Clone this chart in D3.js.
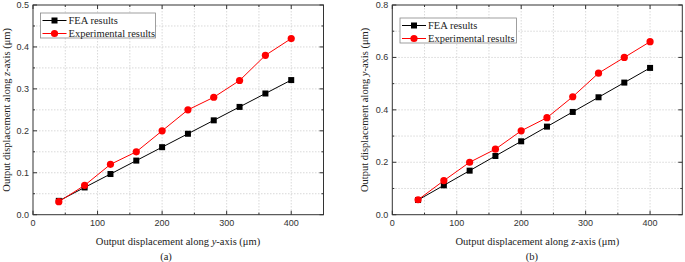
<!DOCTYPE html>
<html>
<head>
<meta charset="utf-8">
<script src="https://cdn.jsdelivr.net/npm/d3@7"></script>
<style>
  body { margin: 0; background: #fff; }
  svg { display: block; }
  .tick-label { font-family: "Liberation Sans", Arial, sans-serif; font-size: 9px; fill: #333; }
  .title { font-family: "Liberation Serif", "Times New Roman", serif; font-size: 10.5px; fill: #222; }
</style>
</head>
<body>
<svg id="chart" width="685" height="262"></svg>
<script>
// data
var xValues = [40, 80, 120, 160, 200, 240, 280, 320, 360, 400];
var feaA = [0.033, 0.065, 0.097, 0.129, 0.161, 0.193, 0.225, 0.257, 0.289, 0.321];
var expA = [0.031, 0.070, 0.120, 0.150, 0.200, 0.250, 0.280, 0.320, 0.380, 0.420];
var feaB = [0.056, 0.112, 0.168, 0.224, 0.280, 0.336, 0.392, 0.448, 0.504, 0.560];
var expB = [0.057, 0.130, 0.200, 0.250, 0.320, 0.370, 0.450, 0.540, 0.600, 0.660];
var xTicks = [0, 100, 200, 300, 400];
var yTicksA = [0.0, 0.1, 0.2, 0.3, 0.4, 0.5];
var yTicksB = [0.0, 0.2, 0.4, 0.6, 0.8];
var seriesNames = ['FEA results', 'Experimental results'];

var svg = d3.select('#chart');

function panel(opt) {
    var g = svg.append('g').attr('transform', 'translate(' + opt.left + ',' + opt.top + ')');
    var w = opt.width, h = opt.height;

    var x = d3.scaleLinear().domain([0, 450]).range([0, w]);
    var y = d3.scaleLinear().domain([0, opt.yMax]).range([h, 0]);

    // grid (major + minor)
    var xGrid = d3.range(50, 450, 50);
    var yGrid = d3.range(1, opt.yMax / opt.yMinor).map(i => i * opt.yMinor);
    g.selectAll('.gx').data(xGrid).enter().append('line')
        .attr('x1', d => x(d)).attr('x2', d => x(d))
        .attr('y1', 0).attr('y2', h)
        .style('stroke', '#cfcfcf').style('stroke-width', 0.8)
        .style('stroke-dasharray', '1.5,1.5');
    g.selectAll('.gy').data(yGrid).enter().append('line')
        .attr('x1', 0).attr('x2', w)
        .attr('y1', d => y(d)).attr('y2', d => y(d))
        .style('stroke', '#cfcfcf').style('stroke-width', 0.8)
        .style('stroke-dasharray', '1.5,1.5');

    // frame
    g.append('rect').attr('width', w).attr('height', h)
        .style('fill', 'none').style('stroke', '#333').style('stroke-width', 1);

    // inward ticks on all four sides
    var xMajor = d3.range(0, 451, 100), xMinor = d3.range(50, 450, 100);
    var yMajor = opt.yTicks, yMinor = d3.range(0, opt.yTicks.length - 1).map(i => (opt.yTicks[i] + opt.yTicks[i + 1]) / 2);
    function ticksX(vals, len) {
        vals.forEach(function (v) {
            g.append('line').attr('x1', x(v)).attr('x2', x(v)).attr('y1', h).attr('y2', h - len).style('stroke', '#333');
            g.append('line').attr('x1', x(v)).attr('x2', x(v)).attr('y1', 0).attr('y2', len).style('stroke', '#333');
        });
    }
    function ticksY(vals, len) {
        vals.forEach(function (v) {
            g.append('line').attr('x1', 0).attr('x2', len).attr('y1', y(v)).attr('y2', y(v)).style('stroke', '#333');
            g.append('line').attr('x1', w).attr('x2', w - len).attr('y1', y(v)).attr('y2', y(v)).style('stroke', '#333');
        });
    }
    ticksX(xMajor, 4); ticksX(xMinor, 2);
    ticksY(yMajor, 4); ticksY(yMinor, 2);

    // tick labels
    g.selectAll('.xl').data(xTicks).enter().append('text')
        .attr('class', 'tick-label')
        .attr('x', d => x(d)).attr('y', h + 11)
        .attr('text-anchor', 'middle').text(d => d);
    g.selectAll('.yl').data(opt.yTicks).enter().append('text')
        .attr('class', 'tick-label')
        .attr('x', -4).attr('y', d => y(d) + 3)
        .attr('text-anchor', 'end').text(d => d.toFixed(1));

    // axis titles
    var xt = g.append('text').attr('class', 'title')
        .attr('x', opt.xTitleX).attr('y', h + 30).attr('text-anchor', 'middle');
    xt.append('tspan').text('Output displacement along ');
    xt.append('tspan').style('font-style', 'italic').text(opt.xAxisVar);
    xt.append('tspan').text('-axis (\u03bcm)');

    var yt = g.append('text').attr('class', 'title')
        .attr('transform', 'translate(' + opt.yTitleX + ',' + (h / 2) + ') rotate(-90)')
        .attr('text-anchor', 'middle');
    yt.append('tspan').text('Output displacement along ');
    yt.append('tspan').style('font-style', 'italic').text(opt.yAxisVar);
    yt.append('tspan').text('-axis (\u03bcm)');

    g.append('text').attr('class', 'title')
        .attr('x', opt.capX).attr('y', h + 45).attr('text-anchor', 'middle').text(opt.caption);

    // series
    var line = d3.line().x((d, i) => x(xValues[i])).y(d => y(d));
    g.append('path').datum(opt.fea).attr('d', line)
        .style('fill', 'none').style('stroke', '#000').style('stroke-width', 1);
    g.append('path').datum(opt.exp).attr('d', line)
        .style('fill', 'none').style('stroke', '#ff0000').style('stroke-width', 1);

    g.selectAll('.sq').data(opt.fea).enter().append('rect')
        .attr('x', (d, i) => x(xValues[i]) - 3).attr('y', d => y(d) - 3)
        .attr('width', 6).attr('height', 6).style('fill', '#000');
    g.selectAll('.ci').data(opt.exp).enter().append('circle')
        .attr('cx', (d, i) => x(xValues[i])).attr('cy', d => y(d))
        .attr('r', 3.6).style('fill', '#ff0000');

    // legend
    var lg = g.append('g').attr('transform', 'translate(' + opt.legX + ',' + opt.legY + ')');
    lg.append('rect').attr('width', opt.legW).attr('height', 25)
        .style('fill', '#fff').style('stroke', '#888').style('stroke-width', 0.8);
    seriesNames.forEach(function (name, i) {
        var cy = 7.5 + i * 13;
        var col = i === 0 ? '#000' : '#ff0000';
        lg.append('line').attr('x1', 2).attr('x2', 26).attr('y1', cy).attr('y2', cy)
            .style('stroke', col).style('stroke-width', 1);
        if (i === 0) {
            lg.append('rect').attr('x', 11).attr('y', cy - 3).attr('width', 6).attr('height', 6).style('fill', col);
        } else {
            lg.append('circle').attr('cx', 14).attr('cy', cy).attr('r', 3.6).style('fill', col);
        }
        lg.append('text').attr('class', 'title').attr('x', 28).attr('y', cy + 3.5).text(name);
    });
}

panel({
    left: 33, top: 5, width: 290.5, height: 209.7, yMax: 0.5, yMinor: 0.05,
    yTicks: yTicksA, fea: feaA, exp: expA, xAxisVar: 'y', yAxisVar: 'z',
    xTitleX: 145, yTitleX: -23, capX: 133, caption: '(a)',
    legX: 7.5, legY: 8, legW: 115
});
panel({
    left: 392.3, top: 5, width: 290, height: 209.7, yMax: 0.8, yMinor: 0.1,
    yTicks: yTicksB, fea: feaB, exp: expB, xAxisVar: 'z', yAxisVar: 'y',
    xTitleX: 145, yTitleX: -24, capX: 139.5, caption: '(b)',
    legX: 7.7, legY: 13, legW: 116.5
});
</script>
</body>
</html>
